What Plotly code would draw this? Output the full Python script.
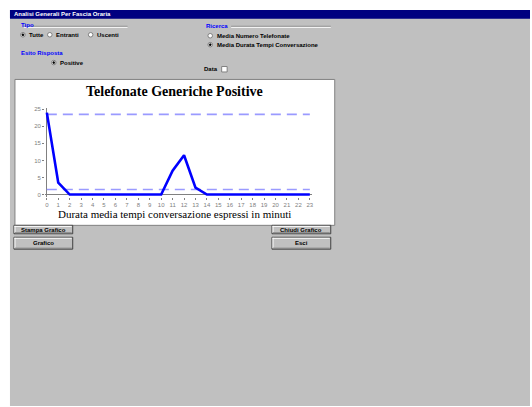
import plotly.graph_objects as go

# ---- data ----
minutes = list(range(24))
calls = [24, 3.5, 0, 0, 0, 0, 0, 0, 0, 0, 0, 7, 11.5, 2, 0, 0, 0, 0, 0, 0, 0, 0, 0, 0]
upper_limit = 23.5
lower_limit = 1.5
y_ticks = [0, 5, 10, 15, 20, 25]
x_ticks = list(range(24))

chart_title = "Telefonate Generiche Positive"
x_title = "Durata media tempi conversazione espressi in minuti"
window_title = "Analisi Generali Per Fascia Oraria"

OFF = 0
W, H = 532, 407
def X(p): return (p - OFF) / W
def Y(p): return 1 - (p - OFF) / H

GRAY = "#c0c0c0"
DARK = "#808080"
SANS = "Liberation Sans, Arial, sans-serif"
SERIF = "Liberation Serif, Times New Roman, serif"

fig = go.Figure()

fig.add_trace(go.Scatter(x=[minutes[0], minutes[-1]], y=[upper_limit, upper_limit], mode="lines",
                         line=dict(color="#9a9aff", width=1.6, dash="10px,6px"), hoverinfo="skip"))
fig.add_trace(go.Scatter(x=[minutes[0], minutes[-1]], y=[lower_limit, lower_limit], mode="lines",
                         line=dict(color="#9a9aff", width=1.6, dash="10px,6px"), hoverinfo="skip"))
fig.add_trace(go.Scatter(x=minutes, y=calls, mode="lines",
                         line=dict(color="#0000ff", width=2.6)))

shapes = []
def rect(x0, y0, x1, y1, fill, line=None, lw=0):
    shapes.append(dict(type="rect", xref="paper", yref="paper", x0=X(x0), x1=X(x1), y0=Y(y1), y1=Y(y0),
                       fillcolor=fill, line=dict(color=line or fill, width=lw), layer="below"))
def hline(x0, x1, y, color, lw=1):
    shapes.append(dict(type="line", xref="paper", yref="paper", x0=X(x0), x1=X(x1), y0=Y(y), y1=Y(y),
                       line=dict(color=color, width=lw), layer="below"))
def vline(x, y0, y1, color, lw=1):
    shapes.append(dict(type="line", xref="paper", yref="paper", x0=X(x), x1=X(x), y0=Y(y0), y1=Y(y1),
                       line=dict(color=color, width=lw), layer="below"))
def circle(cx, cy, r, fill, line):
    shapes.append(dict(type="circle", xref="paper", yref="paper", x0=X(cx - r), x1=X(cx + r),
                       y0=Y(cy + r), y1=Y(cy - r), fillcolor=fill, line=dict(color=line, width=1), layer="below"))

annotations = []
def text(x, y, s, size=6, color="black", bold=True, anchor="left", font=SANS):
    t = f"<b>{s}</b>" if bold else s
    annotations.append(dict(x=X(x), y=Y(y), xref="paper", yref="paper", text=t, showarrow=False,
                            xanchor=anchor, yanchor="middle", font=dict(size=size, color=color, family=font)))

# window background
rect(10, 8, 532, 407, GRAY)
rect(10, 8, 532, 17, "#000080")
text(12, 12.5, window_title, size=6, color="white")

# Tipo group
text(19, 23.5, "Tipo", color="#0000ff")
hline(24, 128, 24.5, DARK); hline(24, 128, 25.5, "white")
for cx, lab in [(23, "Tutte"), (50, "Entranti"), (91, "Uscenti")]:
    circle(cx, 33, 2.3, "white", DARK)
    text(cx + 4, 33, lab)
circle(23, 33, 0.9, "black", "black")

# Esito risposta
text(19, 51, "Esito Risposta", color="#0000ff")
circle(54, 61, 2.3, "white", DARK)
circle(54, 61, 0.9, "black", "black")
text(58, 61, "Positive")

# Ricerca group
text(205, 24, "Ricerca", color="#0000ff")
hline(232, 332, 24.5, DARK); hline(232, 332, 25.5, "white")
circle(211, 34, 2.3, "white", DARK)
text(216, 34, "Media Numero Telefonate")
circle(211, 43, 2.3, "white", DARK)
circle(211, 43, 0.9, "black", "black")
text(216, 43, "Media Durata Tempi Conversazione")

# Data checkbox
text(203, 67.5, "Data")
rect(222.5, 65, 228, 70.5, "white", DARK, 1)

# chart box
rect(15, 78, 336, 225, "white", DARK, 1)

# buttons
def button(x0, y0, x1, y1, label):
    rect(x0, y0, x1, y1, GRAY, "#404040", 1)
    hline(x0 + 0.5, x1 - 1, y0 + 1, "white")
    vline(x0 + 1, y0 + 0.5, y1 - 1, "white")
    hline(x0 + 1, x1 - 1, y1 - 1, DARK)
    text((x0 + x1) / 2, (y0 + y1) / 2, label, anchor="center")

button(14, 225, 73, 233.5, "Stampa Grafico")
button(273, 225, 332, 233.5, "Chiudi Grafico")
button(14, 237, 73, 249, "Grafico")
button(273, 237, 332, 249, "Esci")

# chart texts
text(175, 90, chart_title, size=14, bold=True, anchor="center", font=SERIF)
text(175, 214, x_title, size=11, bold=False, anchor="center", font=SERIF)

# axes geometry (screen px): x 0 -> 47, 23 -> 311 ; y 0 -> 194, 25 -> 108
xpu = (311 - 47) / 23
ypu = (194 - 108) / 25
xr = [-0.15, 23.15]
yr = [-0.6, 25.3]
xd = [X(47 + xr[0] * xpu), X(47 + xr[1] * xpu)]
yd = [Y(194 - yr[0] * ypu), Y(194 - yr[1] * ypu)]

fig.update_layout(
    width=W, height=H, margin=dict(l=0, r=0, t=0, b=0),
    paper_bgcolor="white", plot_bgcolor="rgba(0,0,0,0)",
    showlegend=False, shapes=shapes, annotations=annotations,
    xaxis=dict(domain=xd, range=xr, tickvals=x_ticks, ticktext=[str(v) for v in x_ticks],
               showgrid=False, zeroline=True, zerolinecolor=DARK, zerolinewidth=1,
               ticks="outside", ticklen=2, tickcolor=DARK, showline=False,
               tickfont=dict(size=6, color=DARK, family=SANS), fixedrange=True),
    yaxis=dict(domain=yd, range=yr, tickvals=y_ticks, ticktext=[str(v) for v in y_ticks],
               showgrid=False, zeroline=True, zerolinecolor=DARK, zerolinewidth=1,
               ticks="outside", ticklen=2, tickcolor=DARK, showline=False,
               tickfont=dict(size=6, color=DARK, family=SANS), fixedrange=True),
)

page_css = ("document.body.style.margin='0';"
            "document.body.style.overflow='hidden';"
            "document.documentElement.style.overflow='hidden';")

fig.write_html("out.html", post_script=page_css, config={"displayModeBar": False})
